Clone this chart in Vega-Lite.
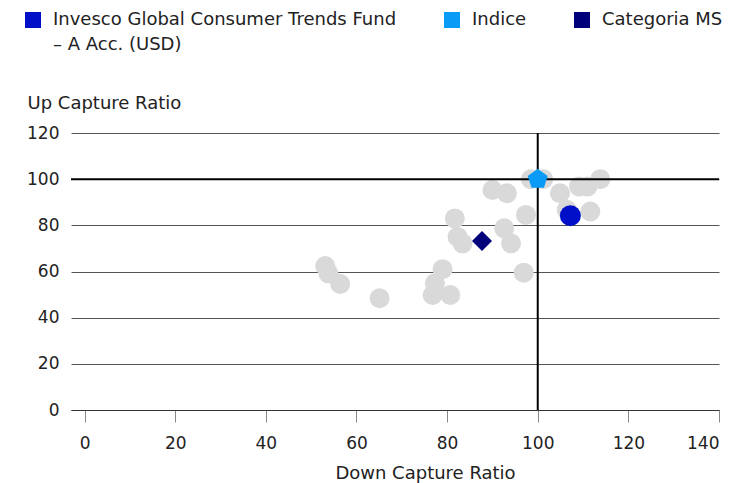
{
  "$schema": "https://vega.github.io/schema/vega-lite/v6.json",
  "width": 648,
  "height": 277,
  "autosize": {"type": "none"},
  "padding": {"left": 71, "top": 133, "right": 34, "bottom": 73},
  "background": "#ffffff",
  "config": {
    "font": "DejaVu Sans",
    "view": {"stroke": null},
    "legend": {
      "orient": "none",
      "legendX": -47,
      "legendY": -122,
      "direction": "horizontal",
      "symbolType": "square",
      "symbolSize": 256,
      "symbolStrokeWidth": 0,
      "symbolOpacity": 1,
      "labelFont": "DejaVu Sans",
      "labelFontSize": 18,
      "labelColor": "#222222",
      "labelLimit": 500,
      "labelOffset": 11,
      "columnPadding": 46
    }
  },
  "datasets": {
    "peers": [
      {"down": 90.0, "up": 95.3},
      {"down": 93.2, "up": 93.9},
      {"down": 98.5, "up": 100.0},
      {"down": 101.2, "up": 100.0},
      {"down": 104.9, "up": 93.9},
      {"down": 109.1, "up": 96.8},
      {"down": 111.0, "up": 96.8},
      {"down": 113.8, "up": 100.0},
      {"down": 111.6, "up": 86.0},
      {"down": 106.4, "up": 86.7},
      {"down": 97.4, "up": 84.5},
      {"down": 81.7, "up": 83.0},
      {"down": 82.3, "up": 75.0},
      {"down": 83.4, "up": 72.2},
      {"down": 92.6, "up": 78.7},
      {"down": 94.1, "up": 72.2},
      {"down": 96.9, "up": 59.5},
      {"down": 79.0, "up": 61.0},
      {"down": 77.3, "up": 54.9},
      {"down": 76.8, "up": 49.8},
      {"down": 80.7, "up": 49.8},
      {"down": 65.1, "up": 48.4},
      {"down": 53.1, "up": 62.4},
      {"down": 53.8, "up": 59.2},
      {"down": 56.4, "up": 54.6}
    ],
    "series": [
      {"name": "Invesco Global Consumer Trends Fund – A Acc. (USD)", "down": 107.2, "up": 84.2},
      {"name": "Indice", "down": 100.0, "up": 100.0},
      {"name": "Categoria MS", "down": 87.7, "up": 73.2}
    ]
  },
  "layer": [
    {
      "data": {"name": "peers"},
      "mark": {"type": "circle", "size": 400, "color": "#d9d9d9", "opacity": 1},
      "encoding": {
        "x": {
          "field": "down",
          "type": "quantitative",
          "scale": {"domain": [-3, 140], "nice": false, "zero": false},
          "axis": {
            "values": [0, 20, 40, 60, 80, 100, 120, 140],
            "grid": false,
            "tickSize": 12,
            "tickColor": "#888888",
            "domainColor": "#333333",
            "labelFontSize": 17,
            "labelColor": "#222222",
            "labelPadding": 13,
            "title": "Down Capture Ratio",
            "titleFontSize": 18,
            "titleFontWeight": "normal",
            "titleColor": "#222222",
            "titleX": 354,
            "titleY": 68,
            "titleAlign": "center",
            "titleBaseline": "alphabetic"
          }
        },
        "y": {
          "field": "up",
          "type": "quantitative",
          "scale": {"domain": [0, 120], "nice": false},
          "axis": {
            "values": [0, 20, 40, 60, 80, 100, 120],
            "grid": true,
            "gridColor": "#555555",
            "gridWidth": 1,
            "ticks": false,
            "domain": false,
            "labelFontSize": 17,
            "labelColor": "#222222",
            "labelPadding": 12,
            "title": "Up Capture Ratio",
            "titleFontSize": 18,
            "titleFontWeight": "normal",
            "titleColor": "#222222",
            "titleAngle": 0,
            "titleX": -44,
            "titleY": -25,
            "titleAlign": "left",
            "titleBaseline": "alphabetic"
          }
        }
      }
    },
    {
      "data": {"values": [{}]},
      "mark": {"type": "rule", "color": "#000000", "strokeWidth": 2},
      "encoding": {"y": {"datum": 100, "type": "quantitative"}}
    },
    {
      "data": {"values": [{}]},
      "mark": {"type": "rule", "color": "#000000", "strokeWidth": 2},
      "encoding": {"x": {"datum": 100, "type": "quantitative"}}
    },
    {
      "data": {"name": "series"},
      "transform": [{"filter": "datum.name == 'Categoria MS'"}],
      "mark": {"type": "point", "shape": "diamond", "filled": true, "size": 400, "opacity": 1},
      "encoding": {
        "x": {"field": "down", "type": "quantitative"},
        "y": {"field": "up", "type": "quantitative"},
        "color": {
          "field": "name",
          "type": "nominal",
          "scale": {
            "domain": ["Invesco Global Consumer Trends Fund – A Acc. (USD)", "Indice", "Categoria MS"],
            "range": ["#0010c8", "#0a9bf7", "#00007a"]
          },
          "legend": {
            "title": null,
            "labelExpr": "datum.label == 'Invesco Global Consumer Trends Fund – A Acc. (USD)' ? ['Invesco Global Consumer Trends Fund', '– A Acc. (USD)'] : [datum.label, ' ']",
            "encoding": {"labels": {"lineHeight": {"value": 25}}}
          }
        }
      }
    },
    {
      "data": {"name": "series"},
      "transform": [{"filter": "datum.name == 'Indice'"}],
      "mark": {"type": "point", "shape": "M0,-1L0.951,-0.309L0.588,0.809L-0.588,0.809L-0.951,-0.309Z", "filled": true, "size": 440, "opacity": 1},
      "encoding": {
        "x": {"field": "down", "type": "quantitative"},
        "y": {"field": "up", "type": "quantitative"},
        "color": {"field": "name", "type": "nominal"}
      }
    },
    {
      "data": {"name": "series"},
      "transform": [{"filter": "datum.name == 'Invesco Global Consumer Trends Fund – A Acc. (USD)'"}],
      "mark": {"type": "point", "shape": "circle", "filled": true, "size": 440, "opacity": 1},
      "encoding": {
        "x": {"field": "down", "type": "quantitative"},
        "y": {"field": "up", "type": "quantitative"},
        "color": {"field": "name", "type": "nominal"}
      }
    }
  ]
}
